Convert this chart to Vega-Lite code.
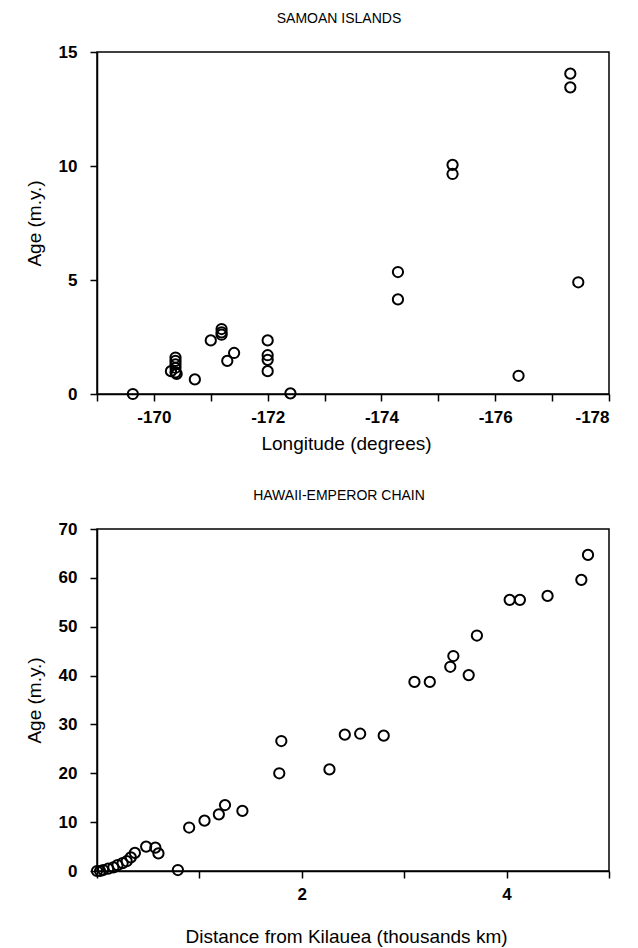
{
  "$schema": "https://vega.github.io/schema/vega-lite/v6.json",
  "padding": {"left": 24, "top": 11, "right": 5, "bottom": 0},
  "background": "white",
  "columns": 1,
  "align": "none",
  "spacing": 34,
  "config": {
    "font": "Liberation Sans",
    "view": {"stroke": "black", "strokeWidth": 1.5},
    "axis": {
      "grid": false,
      "domainColor": "black",
      "domainWidth": 1.5,
      "tickColor": "black",
      "tickWidth": 1.5,
      "tickSize": 7,
      "labelColor": "black",
      "titleColor": "black",
      "labelFontSize": 17,
      "labelFontWeight": "bold",
      "titleFontSize": 19,
      "titleFontWeight": "normal"
    },
    "axisX": {"labelPadding": 8, "titlePadding": 9, "titleX": 249},
    "axisY": {"labelPadding": 13, "titlePadding": 14},
    "title": {"fontSize": 14, "fontWeight": "normal", "color": "black", "offset": 17, "dx": -14}
  },
  "concat": [
    {
      "width": 512,
      "height": 342,
      "title": "SAMOAN ISLANDS",
      "data": {"values": [
        {"lon": -169.63, "age": 0},
        {"lon": -170.30, "age": 1.0},
        {"lon": -170.38, "age": 1.6},
        {"lon": -170.38, "age": 1.45},
        {"lon": -170.38, "age": 1.3},
        {"lon": -170.38, "age": 1.15},
        {"lon": -170.38, "age": 0.95},
        {"lon": -170.40, "age": 0.88},
        {"lon": -170.72, "age": 0.64},
        {"lon": -171.0, "age": 2.35},
        {"lon": -171.19, "age": 2.85},
        {"lon": -171.19, "age": 2.7},
        {"lon": -171.19, "age": 2.6},
        {"lon": -171.29, "age": 1.45},
        {"lon": -171.41, "age": 1.8},
        {"lon": -172.0, "age": 2.35},
        {"lon": -172.0, "age": 1.7},
        {"lon": -172.0, "age": 1.5},
        {"lon": -172.0, "age": 1.0},
        {"lon": -172.40, "age": 0.03},
        {"lon": -174.29, "age": 5.35},
        {"lon": -174.29, "age": 4.15},
        {"lon": -175.25, "age": 10.05},
        {"lon": -175.25, "age": 9.65},
        {"lon": -176.41, "age": 0.8},
        {"lon": -177.32, "age": 14.05},
        {"lon": -177.32, "age": 13.45},
        {"lon": -177.46, "age": 4.9}
      ]},
      "mark": {"type": "point", "filled": false, "color": "black", "strokeWidth": 2, "size": 105, "opacity": 1},
      "encoding": {
        "x": {
          "field": "lon", "type": "quantitative",
          "scale": {"domain": [-178, -169], "reverse": true, "nice": false, "zero": false},
          "axis": {"title": "Longitude (degrees)", "values": [-169, -170, -171, -172, -173, -174, -175, -176, -177, -178],
                   "labelExpr": "datum.value % 2 == 0 ? '' + datum.value : ''"}
        },
        "y": {
          "field": "age", "type": "quantitative",
          "scale": {"domain": [0, 15], "nice": false},
          "axis": {"title": "Age (m.y.)", "values": [0, 5, 10, 15]}
        }
      }
    },
    {
      "width": 512,
      "height": 342,
      "title": "HAWAII-EMPEROR CHAIN",
      "data": {"values": [
        {"dist": 0.0, "age": 0},
        {"dist": 0.03, "age": 0},
        {"dist": 0.06, "age": 0.2},
        {"dist": 0.11, "age": 0.5},
        {"dist": 0.16, "age": 0.75},
        {"dist": 0.20, "age": 1.2},
        {"dist": 0.25, "age": 1.6},
        {"dist": 0.29, "age": 2.0},
        {"dist": 0.33, "age": 2.8},
        {"dist": 0.37, "age": 3.7},
        {"dist": 0.48, "age": 5.0},
        {"dist": 0.57, "age": 4.8},
        {"dist": 0.60, "age": 3.6},
        {"dist": 0.79, "age": 0.2},
        {"dist": 0.90, "age": 8.9},
        {"dist": 1.05, "age": 10.3},
        {"dist": 1.19, "age": 11.6},
        {"dist": 1.25, "age": 13.5},
        {"dist": 1.42, "age": 12.3},
        {"dist": 1.78, "age": 20.0},
        {"dist": 1.80, "age": 26.6},
        {"dist": 2.27, "age": 20.8},
        {"dist": 2.42, "age": 27.9},
        {"dist": 2.57, "age": 28.1},
        {"dist": 2.80, "age": 27.7},
        {"dist": 3.10, "age": 38.7},
        {"dist": 3.25, "age": 38.7},
        {"dist": 3.45, "age": 41.8},
        {"dist": 3.48, "age": 44.0},
        {"dist": 3.63, "age": 40.1},
        {"dist": 3.71, "age": 48.2},
        {"dist": 4.03, "age": 55.5},
        {"dist": 4.13, "age": 55.5},
        {"dist": 4.40, "age": 56.3},
        {"dist": 4.73, "age": 59.6},
        {"dist": 4.795, "age": 64.7}
      ]},
      "mark": {"type": "point", "filled": false, "color": "black", "strokeWidth": 2, "size": 105, "opacity": 1},
      "encoding": {
        "x": {
          "field": "dist", "type": "quantitative",
          "scale": {"domain": [0, 5], "nice": false, "zero": false},
          "axis": {"title": "Distance from Kilauea (thousands km)", "values": [0, 1, 2, 3, 4, 5],
                   "labelExpr": "datum.value == 2 || datum.value == 4 ? '' + datum.value : ''",
                   "titlePadding": 25}
        },
        "y": {
          "field": "age", "type": "quantitative",
          "scale": {"domain": [0, 70], "nice": false},
          "axis": {"title": "Age (m.y.)", "values": [0, 10, 20, 30, 40, 50, 60, 70]}
        }
      }
    }
  ]
}
